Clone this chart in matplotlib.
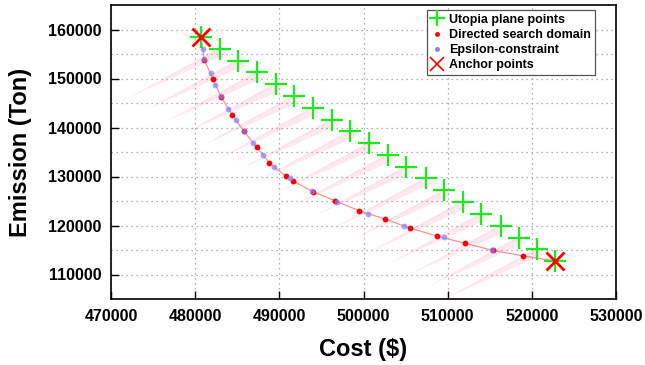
import numpy as np
import matplotlib
matplotlib.use("Agg")
import matplotlib.pyplot as plt
from matplotlib.patches import Polygon

plt.rcParams['font.family'] = ['Liberation Sans', 'DejaVu Sans']
plt.rcParams['font.weight'] = 'bold'

# ---- data ----
utopia_x = [480700, 482900, 485100, 487400, 489600, 491800, 494000, 496300, 498400, 500700,
            502900, 505100, 507400, 509600, 511800, 514000, 516300, 518500, 520600, 522800]
utopia_y = [158450, 156050, 153650, 151250, 148850, 146400, 144000, 141600, 139200, 136800,
            134400, 132000, 129600, 127200, 124800, 122350, 119950, 117550, 115150, 112750]

dsd_x = [481100, 482100, 483100, 484400, 485800, 487300, 488800, 490800, 491600, 494000,
         496600, 499500, 502500, 505500, 508700, 512000, 515400, 519000]
dsd_y = [153800, 149850, 146200, 142600, 139200, 136000, 132800, 130050, 129100, 126900,
         125050, 123000, 121350, 119500, 117850, 116400, 114900, 113800]

eps_x = [480950, 481100, 481850, 482400, 483100, 483950, 484900, 485850, 486900, 488000,
         489350, 491250, 493850, 496800, 500550, 504800, 509550, 515250]
eps_y = [155950, 153900, 151050, 148650, 146350, 143800, 141450, 139200, 136800, 134300,
         131950, 129600, 127050, 124700, 122350, 119850, 117650, 115100]

anchor_x = [480700, 522800]
anchor_y = [158450, 112750]

xlim = (470000, 530000)
ylim = (105000, 165000)

fig = plt.figure(figsize=(6.45, 3.65), dpi=100)
ax = fig.add_axes([111/645, 1-299/365, (616-111)/645, (299-5)/365])

# directed search domain wedges (derived from utopia points)
ux = np.array(utopia_x, float); uy = np.array(utopia_y, float)
d = np.array([ux[-1]-ux[0], uy[-1]-uy[0]])
u = d/np.linalg.norm(d)
n = np.array([u[1], -u[0]])
if n[0] > 0:
    n = -n
L = 14770.0
spacing = np.linalg.norm(d)/(len(ux)-1)
hw = 0.40*spacing
for k in range(1, len(ux)-1):
    P = np.array([ux[k], uy[k]])
    apex = P + L*n
    poly = [apex, P + hw*u, P - 0.05*hw*u]
    ax.add_patch(Polygon(poly, closed=True, facecolor='#ffd2e2', edgecolor='none', alpha=0.5, zorder=0.4))
    poly2 = [apex, P + 0.1*hw*u, P - 0.15*hw*u]
    ax.add_patch(Polygon(poly2, closed=True, facecolor='#ffbcd4', edgecolor='none', alpha=0.3, zorder=0.4))

# front line
line_x = [anchor_x[0]] + dsd_x + [anchor_x[1]]
line_y = [anchor_y[0]] + dsd_y + [anchor_y[1]]
ax.plot(line_x, line_y, color='#ff9090', lw=0.9, zorder=2)

ax.plot(utopia_x, utopia_y, linestyle='none', marker='+', markersize=16, mew=1.6,
        color='#1aeb1a', zorder=3, label='Utopia plane points')
ax.plot(dsd_x, dsd_y, linestyle='none', marker='o', markersize=4.2, mew=0,
        color='#ff0000', zorder=4, label='Directed search domain')
ax.plot(eps_x, eps_y, linestyle='none', marker='o', markersize=4.2, mew=0,
        color='#8080ff', alpha=0.7, zorder=5, label='Epsilon-constraint')
ax.plot(anchor_x, anchor_y, linestyle='none', marker='x', markersize=13, mew=2,
        color='#ff0000', zorder=6, label='Anchor points')

ax.set_xlim(*xlim)
ax.set_ylim(*ylim)
ax.set_xticks(np.arange(470000, 530001, 10000))
ax.set_yticks(np.arange(110000, 160001, 10000))
ax.set_yticks(np.arange(110000, 160001, 5000), minor=True)
ax.tick_params(axis='both', which='major', direction='in', length=6, width=1,
               labelsize=11.5, pad=7, top=False, right=False)
ax.tick_params(axis='y', which='minor', length=0)
for lab in ax.get_xticklabels() + ax.get_yticklabels():
    lab.set_fontweight('bold')
ax.set_axisbelow(True)
ax.grid(True, which='major', color='#999999', linestyle=(0, (1, 3)), lw=0.9)
ax.grid(True, which='minor', axis='y', color='#999999', linestyle=(0, (1, 3)), lw=0.9)
for s in ax.spines.values():
    s.set_linewidth(1.2)

ax.set_xlabel('Cost ($)', fontsize=17, fontweight='bold', labelpad=10)
ax.set_ylabel('Emission (Ton)', fontsize=17, fontweight='bold', labelpad=11)

leg = fig.legend(loc='upper right', bbox_to_anchor=(595/645, 1-10/365), borderaxespad=0,
                 prop={'weight': 'bold', 'size': 9}, handlelength=1.0,
                 handletextpad=0.5, borderpad=0.3, labelspacing=0.25, fancybox=False,
                 framealpha=1, edgecolor='#555555')
leg.get_frame().set_linewidth(0.9)
for h in leg.legend_handles:
    h.set_alpha(1)
leg.legend_handles[0].set_markersize(12)
leg.legend_handles[1].set_markersize(3.5)
leg.legend_handles[2].set_markersize(3.5)
leg.legend_handles[3].set_markersize(10)
leg.legend_handles[3].set_markeredgewidth(1.2)

fig.savefig('out.png', dpi=100)
